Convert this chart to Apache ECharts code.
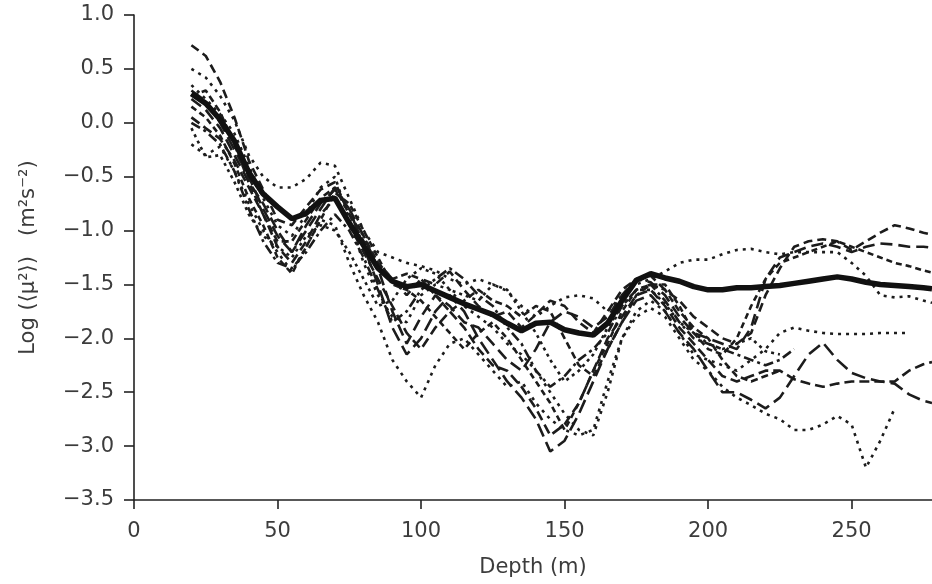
<!DOCTYPE html>
<html>
<head>
<meta charset="utf-8">
<script src="https://cdn.jsdelivr.net/npm/echarts@6/dist/echarts.min.js"></script>
<style>html,body{margin:0;padding:0;background:#fff}#c{width:932px;height:584px}</style>
</head>
<body>
<div id="c"></div>
<script>
// Depth grid (m)
var depths = [20,25,30,35,40,45,50,55,60,65,70,75,80,85,90,95,100,105,110,115,120,125,130,135,140,145,150,155,160,165,170,175,180,185,190,195,200,205,210,215,220,225,230,235,240,245,250,255,260,265,270,275,278];
var yTicks = [-3.5,-3.0,-2.5,-2.0,-1.5,-1.0,-0.5,0.0,0.5,1.0];
var xTicks = [0,50,100,150,200,250];

// Mean profile (thick line)
var meanProfile = [0.27,0.18,0.03,-0.17,-0.46,-0.66,-0.78,-0.89,-0.84,-0.72,-0.70,-0.93,-1.14,-1.35,-1.47,-1.52,-1.50,-1.56,-1.62,-1.68,-1.73,-1.78,-1.86,-1.93,-1.86,-1.85,-1.92,-1.95,-1.97,-1.86,-1.65,-1.46,-1.40,-1.44,-1.47,-1.52,-1.55,-1.55,-1.53,-1.53,-1.52,-1.51,-1.49,-1.47,-1.45,-1.43,-1.45,-1.48,-1.50,-1.51,-1.52,-1.53,-1.54];

// Individual profiles
var prof1 = [0.72,0.62,0.38,0.05,-0.35,-0.62,-0.90,-0.95,-0.78,-0.62,-0.55,-0.85,-1.10,-1.30,-1.45,-1.60,-1.45,-1.50,-1.38,-1.55,-1.70,-1.80,-1.75,-1.90,-1.78,-1.65,-1.70,-1.85,-1.95,-1.75,-1.55,-1.45,-1.42,-1.55,-1.65,-1.80,-1.90,-2.00,-2.05,-1.95,-1.60,-1.35,-1.15,-1.10,-1.08,-1.10,-1.18,-1.10,-1.02,-0.95,-0.98,-1.02,-1.04];
var prof2 = [0.22,0.12,-0.05,-0.30,-0.55,-0.75,-1.00,-1.20,-1.00,-0.80,-0.60,-0.80,-1.05,-1.35,-1.75,-2.05,-1.80,-1.60,-1.70,-1.85,-1.90,-2.05,-2.20,-2.30,-2.10,-1.85,-1.75,-1.80,-1.90,-1.80,-1.60,-1.45,-1.48,-1.60,-1.80,-1.95,-2.00,-2.05,-2.10,-1.90,-1.45,-1.25,-1.20,-1.15,-1.12,-1.15,-1.20,-1.15,-1.12,-1.13,-1.15,-1.15,-1.16];
var prof3 = [0.15,0.05,-0.12,-0.38,-0.70,-0.95,-1.25,-1.40,-1.15,-0.90,-0.65,-0.75,-1.00,-1.25,-1.50,-1.55,-1.65,-1.80,-1.95,-2.10,-1.95,-1.85,-2.00,-2.20,-2.40,-2.60,-2.85,-2.60,-2.30,-2.05,-1.75,-1.55,-1.50,-1.50,-1.70,-1.95,-2.10,-2.15,-2.00,-1.70,-1.45,-1.30,-1.25,-1.20,-1.15,-1.10,-1.15,-1.20,-1.25,-1.30,-1.33,-1.37,-1.39];
var prof4 = [0.50,0.42,0.25,0.02,-0.30,-0.50,-0.60,-0.60,-0.52,-0.37,-0.40,-0.70,-1.00,-1.20,-1.25,-1.30,-1.33,-1.37,-1.45,-1.50,-1.45,-1.50,-1.56,-1.70,-1.80,-1.70,-1.62,-1.60,-1.63,-1.75,-1.60,-1.50,-1.45,-1.38,-1.30,-1.27,-1.27,-1.22,-1.18,-1.17,-1.20,-1.22,-1.20,-1.20,-1.20,-1.20,-1.30,-1.42,-1.60,-1.62,-1.61,-1.65,-1.67];
var prof5 = [0.35,0.22,0.08,-0.10,-0.40,-0.70,-0.95,-1.05,-0.85,-0.60,-0.50,-0.90,-1.30,-1.60,-1.80,-1.85,-1.60,-1.50,-1.55,-1.70,-1.80,-1.90,-2.05,-2.15,-2.30,-2.50,-2.70,-2.85,-2.90,-2.50,-2.00,-1.75,-1.65,-1.75,-1.95,-2.15,-2.20,-2.25,-2.30,-2.20,-2.10,-1.95,-1.90,-1.93,-1.95,-1.96,-1.96,-1.96,-1.95,-1.95,-1.95,null,null];
var prof6 = [0.05,-0.05,-0.15,-0.35,-0.60,-0.85,-1.15,-1.30,-1.10,-0.85,-0.70,-0.95,-1.20,-1.45,-1.70,-1.95,-2.10,-1.90,-1.75,-1.90,-2.10,-2.25,-2.30,-2.45,-2.65,-2.90,-2.80,-2.60,-2.30,-2.00,-1.80,-1.60,-1.55,-1.70,-1.90,-2.05,-2.20,-2.35,-2.40,-2.35,-2.30,-2.30,-2.38,-2.42,-2.45,-2.42,-2.40,-2.40,-2.40,-2.40,-2.30,-2.24,-2.22];
var prof7 = [0.30,0.20,0.00,-0.25,-0.50,-0.80,-1.05,-1.20,-0.95,-0.75,-0.62,-0.80,-1.15,-1.50,-1.90,-2.15,-2.00,-1.75,-1.60,-1.75,-2.00,-2.20,-2.40,-2.55,-2.75,-3.05,-2.95,-2.70,-2.40,-2.10,-1.85,-1.65,-1.60,-1.75,-1.95,-2.10,-2.30,-2.50,-2.50,-2.57,-2.65,-2.55,-2.35,-2.15,-2.04,-2.20,-2.32,-2.37,-2.40,-2.42,-2.52,-2.58,-2.60];
var prof8 = [-0.20,-0.30,-0.22,-0.45,-0.75,-1.00,-1.20,-1.38,-1.15,-0.90,-0.95,-1.30,-1.60,-1.85,-2.20,-2.40,-2.55,-2.25,-2.05,-2.00,-2.15,-2.30,-2.45,-2.40,-2.60,-2.75,-2.85,-2.90,-2.85,-2.40,-2.00,-1.80,-1.72,-1.80,-2.00,-2.20,-2.30,-2.45,-2.55,-2.62,-2.70,-2.75,-2.85,-2.85,-2.80,-2.72,-2.80,-3.20,-2.95,-2.65,null,null,null];
var prof9 = [0.00,-0.08,-0.20,-0.45,-0.80,-1.10,-1.30,-1.35,-1.20,-1.00,-0.85,-1.00,-1.25,-1.55,-1.85,-1.75,-1.55,-1.45,-1.35,-1.45,-1.60,-1.70,-1.90,-2.05,-2.30,-2.45,-2.35,-2.20,-2.10,-1.95,-1.70,-1.55,-1.50,-1.65,-1.85,-2.00,-2.05,-2.10,-2.15,-2.20,-2.25,-2.20,-2.10,null,null,null,null,null,null,null,null,null,null];
var prof10 = [-0.05,-0.32,-0.30,-0.55,-0.85,-1.05,-1.15,-1.25,-1.05,-0.95,-1.00,-1.20,-1.45,-1.70,-1.65,-1.45,-1.35,-1.40,-1.55,-1.60,-1.65,-1.50,-1.55,-1.75,-1.95,-2.20,-2.40,-2.30,-2.15,-1.90,-1.70,-1.55,-1.55,-1.68,-1.85,-1.95,-2.05,-2.10,-2.05,-2.00,-2.12,-2.15,null,null,null,null,null,null,null,null,null,null,null];
var prof11 = [0.25,0.30,0.10,-0.20,-0.55,-0.85,-1.10,-1.10,-0.90,-0.70,-0.60,-0.85,-1.05,-1.30,-1.45,-1.40,-1.45,-1.60,-1.75,-1.65,-1.55,-1.65,-1.70,-1.80,-1.70,-1.75,-2.00,-2.25,-2.35,-2.10,-1.85,-1.60,-1.50,-1.55,-1.75,-1.90,-2.00,-2.20,-2.35,-2.40,-2.35,-2.30,null,null,null,null,null,null,null,null,null,null,null];

var profiles = [prof1,prof2,prof3,prof4,prof5,prof6,prof7,prof8,prof9,prof10,prof11];
var dashes = [[9,5],[12,6],[6,4],[3,5],[3,5],[10,5],[14,6],[3,5],[10,4,3,4],[3,4],[7,4]];

function pairs(vals){
  return depths.map(function(d,i){ return [d, vals[i]]; });
}

var series = profiles.map(function(p,i){
  return {
    type:'line', data:pairs(p), showSymbol:false, symbol:'none', connectNulls:false,
    lineStyle:{color:'#1c1c1c', width:2.6, type:dashes[i]}, z:2
  };
});
series.push({
  type:'line', data:pairs(meanProfile), showSymbol:false, symbol:'none',
  lineStyle:{color:'#111', width:5.5}, z:5
});

var fmt = function(v){ return (v<0?'\u2212':'') + Math.abs(v).toFixed(1); };
var txt = {color:'#3c3c3c', fontFamily:'DejaVu Sans, Arial, sans-serif', fontSize:21};

var chart = echarts.init(document.getElementById('c'), null, {renderer:'canvas'});
chart.setOption({
  animation:false,
  backgroundColor:'#fff',
  grid:{left:134, right:0, top:15, bottom:84, containLabel:false},
  xAxis:{
    type:'value', min:0, max:278, interval:50,
    name:'Depth (m)', nameLocation:'middle', nameGap:57,
    nameTextStyle:txt,
    axisLine:{onZero:false, lineStyle:{color:'#222', width:1.6}},
    axisTick:{length:9, lineStyle:{color:'#222', width:1.6}},
    axisLabel:Object.assign({margin:21, showMaxLabel:false, formatter:function(v){return xTicks.indexOf(v)>=0?String(v):'';}}, txt),
    splitLine:{show:false}
  },
  yAxis:{
    type:'value', min:-3.5, max:1.0, interval:0.5,
    name:'Log (\u27E8\u03BC\u00B2\u27E9)   (m\u00B2s\u207B\u00B2)', nameLocation:'middle', nameGap:95,
    nameTextStyle:txt,
    axisLine:{onZero:false, lineStyle:{color:'#222', width:1.6}},
    axisTick:{length:10, lineStyle:{color:'#222', width:1.6}},
    axisLabel:Object.assign({margin:20, formatter:function(v){ return yTicks.indexOf(Math.round(v*10)/10)>=0?fmt(v):''; }}, txt),
    splitLine:{show:false}
  },
  series:series
});
</script>
</body>
</html>
